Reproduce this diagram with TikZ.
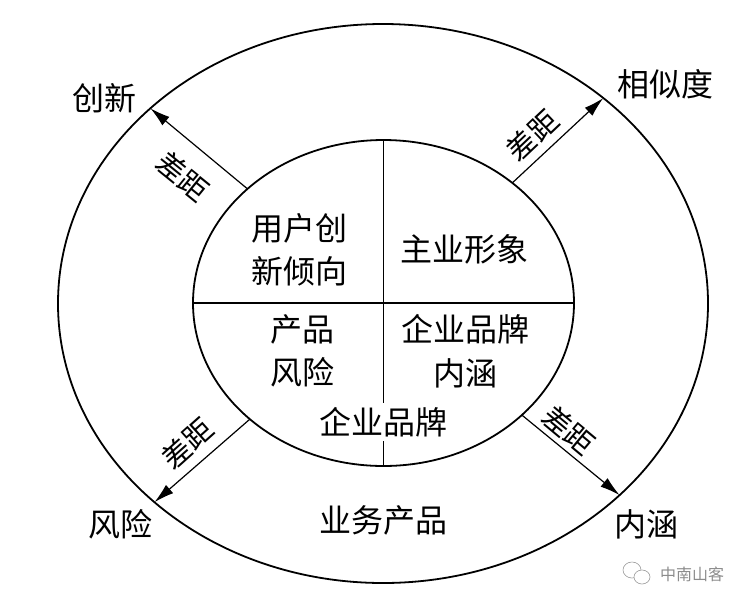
\documentclass[tikz,border=0pt]{standalone}
\usepackage{fontspec}
\newfontfamily\cjk{Noto Sans CJK SC}
\usetikzlibrary{shapes.geometric,arrows.meta}
\tikzset{
  ring/.style={draw, ellipse, line width=1.8pt, inner sep=0pt, outer sep=0pt},
  big/.style={font=\cjk\fontsize{32}{43.5}\selectfont, align=center, inner sep=1pt},
  gap/.style={font=\cjk\fontsize{29}{36}\selectfont, inner sep=0pt},
  divider/.style={line width=1.4pt},
  gaparrow/.style={line width=1.2pt, -{Latex[length=20pt,width=11pt]}},
  wm/.style={font=\cjk\fontsize{16}{18}\selectfont, text=black!45, inner sep=0pt}
}
\begin{document}
\begin{tikzpicture}[x=1pt,y=-1pt]
\useasboundingbox (0,0) rectangle (752,606);
% ellipses
\node[ring, minimum width=650pt, minimum height=559pt] (outer) at (383,303.5) {};
\node[ring, minimum width=381pt, minimum height=326pt] (inner) at (383.5,303) {};
% dividers
\draw[divider] (inner.north) -- (inner.south);
\draw[divider] (inner.west) -- (inner.east);
% inner texts
\node[big] (q1) at (299,250) {用户创\\新倾向};
\node[big] (q2) at (464,249.5) {主业形象};
\node[big] (q3) at (302,351) {产品\\风险};
\node[big] (q4) at (465,351) {企业品牌\\内涵};
\node[big, fill=white, inner ysep=4pt] (brand) at (383.5,422) {企业品牌};
% outer texts
\node[big] (chuangxin) at (104,98) {创新};
\node[big] (xiangsi) at (665,84) {相似度};
\node[big] (fengxian) at (120,524) {风险};
\node[big] (neihan) at (646,524) {内涵};
\node[big] (yewu) at (383.5,520) {业务产品};
% arrows
\draw[gaparrow] (inner.140.8) -- (outer.140.8);
\draw[gaparrow] (inner.43.5) -- (outer.43.5);
\draw[gaparrow] (inner.221.7) -- (outer.221.7);
\draw[gaparrow] (inner.-39.8) -- (outer.-39.8);
% arrow labels
\node[gap, rotate=-39] (g1) at (183,176) {差距};
\node[gap, rotate=43.5] (g2) at (532,135) {差距};
\node[gap, rotate=41.8] (g3) at (187,443) {差距};
\node[gap, rotate=-39.8] (g4) at (569,430) {差距};
% watermark
\draw[black!40, line width=0.6pt] (632,570) ellipse (9pt and 8pt);
\draw[black!40, line width=0.6pt, fill=white] (642,577) ellipse (8pt and 7pt);
\node[wm] (mark) at (692,574) {中南山客};
\end{tikzpicture}
\end{document}
